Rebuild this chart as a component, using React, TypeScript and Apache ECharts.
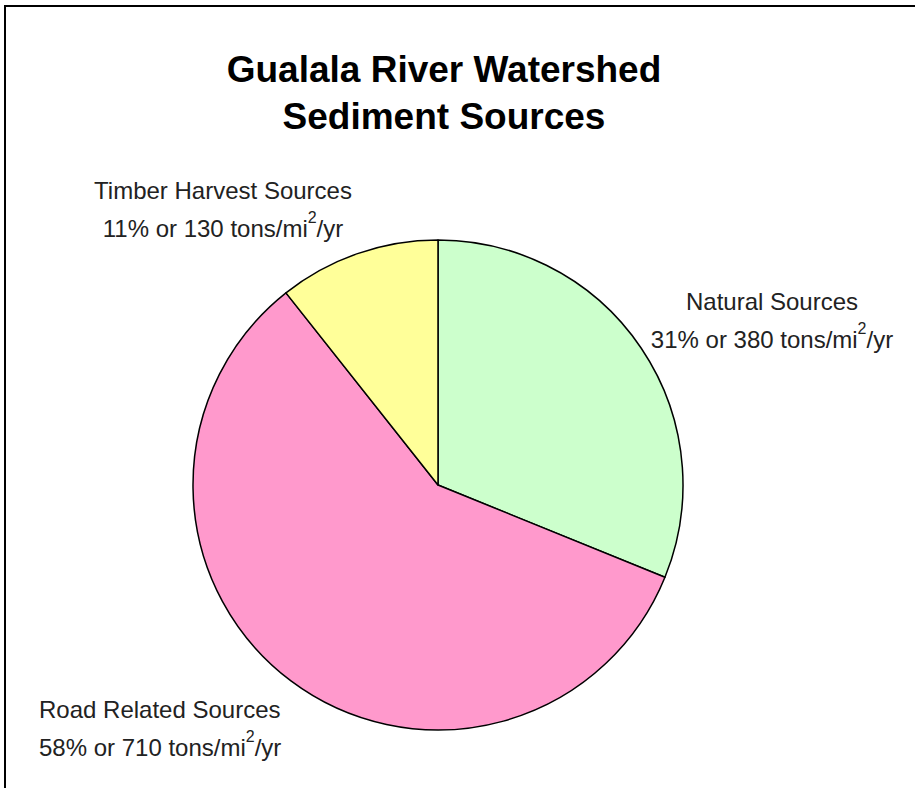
import React, { useEffect, useRef } from "react";
import * as echarts from "echarts";

const titleLines = ["Gualala River Watershed", "Sediment Sources"];
const categories = ["Natural Sources", "Road Related Sources", "Timber Harvest Sources"];
const values = [380, 710, 130];
const colors = ["#CCFFCC", "#FF99CC", "#FFFF99"];
const unitText = "tons/mi";
const unitSup = "2";
const unitTail = "/yr";

// label placement (style only)
const labelPos: { x: number; y: number; align: "center" | "left" }[] = [
  { x: 772, y: 320, align: "center" },
  { x: 39, y: 728, align: "left" },
  { x: 223, y: 209, align: "center" },
];

export default function App() {
  const ref = useRef<HTMLDivElement>(null);
  useEffect(() => {
    if (!ref.current) return;
    const chart = echarts.init(ref.current, null, { renderer: "svg" });
    const total = values.reduce((a, b) => a + b, 0);
    const font = "Liberation Sans, Arial, sans-serif";
    const labelGraphics = categories.map((name, i) => {
      const pct = Math.round((values[i] / total) * 100);
      return {
        type: "text",
        x: labelPos[i].x,
        y: labelPos[i].y,
        style: {
          text: `{a|${name}}\n{a|${pct}% or ${values[i]} ${unitText}}{s|${unitSup}}{a|${unitTail}}`,
          align: labelPos[i].align,
          verticalAlign: "middle",
          fill: "#222",
          fontFamily: font,
          rich: {
            a: { fontSize: 24, lineHeight: 38, fontFamily: font, fill: "#222", color: "#222" },
            s: { fontSize: 16, lineHeight: 22, verticalAlign: "top", fontFamily: font, fill: "#222", color: "#222" },
          },
        },
      };
    });
    chart.setOption({
      animation: false,
      backgroundColor: "#fff",
      title: {
        text: titleLines.join("\n"),
        left: 439,
        top: 41,
        textAlign: "center",
        textStyle: {
          fontFamily: font,
          fontSize: 37,
          fontWeight: "bold",
          color: "#000",
          lineHeight: 47,
        },
      },
      graphic: [
        { type: "line", shape: { x1: 4, y1: 6, x2: 915, y2: 6 }, style: { stroke: "#000", lineWidth: 2 } },
        { type: "line", shape: { x1: 5, y1: 5, x2: 5, y2: 788 }, style: { stroke: "#000", lineWidth: 2 } },
        ...labelGraphics,
      ],
      series: [
        {
          type: "pie",
          center: [438, 485],
          radius: 245,
          startAngle: 90,
          clockwise: true,
          label: { show: false },
          labelLine: { show: false },
          emphasis: { disabled: true },
          itemStyle: { borderColor: "#000", borderWidth: 1.5 },
          data: categories.map((name, i) => ({
            name,
            value: values[i],
            itemStyle: { color: colors[i] },
          })),
        },
      ],
    });
    return () => chart.dispose();
  }, []);
  return (
    <div
      ref={ref}
      style={{ position: "fixed", left: 0, top: 0, width: 915, height: 788 }}
    />
  );
}
